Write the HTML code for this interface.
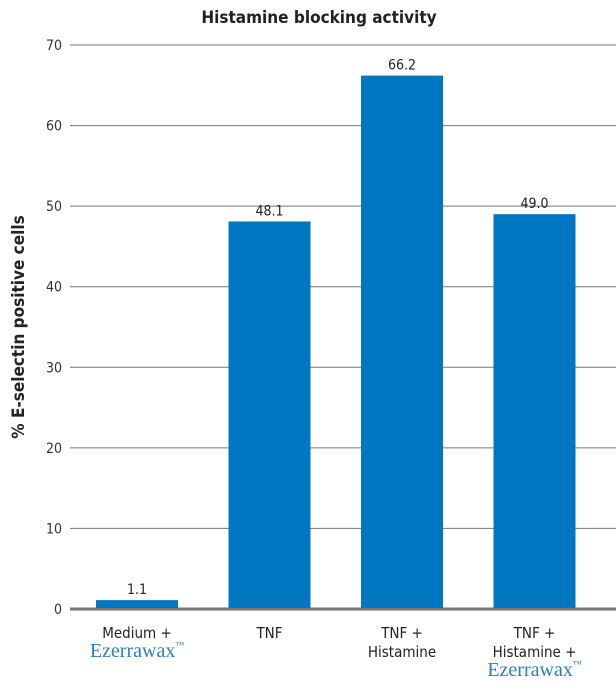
<!DOCTYPE html>
<html><head><meta charset="utf-8"><style>
body{margin:0;background:#fff;}
svg text{font-family:"DejaVu Sans Condensed","Liberation Sans",sans-serif;}
</style></head><body>
<svg width="616" height="685" viewBox="0 0 616 685">
<text x="319" y="23" text-anchor="middle" font-size="17" font-weight="bold" fill="#222">Histamine blocking activity</text>
<text transform="translate(24,327) rotate(-90)" text-anchor="middle" font-size="17" font-weight="bold" fill="#222">% E-selectin positive cells</text>
<g id="grid"></g><g id="bars"></g><g id="xlabels"></g>
</svg>
<script>
const categories=[["Medium +","Ezerrawax"],["TNF"],["TNF +","Histamine"],["TNF +","Histamine +","Ezerrawax"]];
const values=[1.1,48.1,66.2,49.0];
const valueLabels=["1.1","48.1","66.2","49.0"];
const ticks=[0,10,20,30,40,50,60,70];
const NS="http://www.w3.org/2000/svg";
const y0=609,y70=45,left=70,right=616;
const y=v=>y0-(v/70)*(y0-y70);
const bx=i=>96+i*132.5, bw=82;
function mk(t,a,p){const e=document.createElementNS(NS,t);for(const k in a)e.setAttribute(k,a[k]);p.appendChild(e);return e;}
const g=document.getElementById('grid');
ticks.forEach(t=>{
 const l=mk('line',{x1:left,x2:right,y1:y(t),y2:y(t),stroke:'#777','stroke-width':t===0?3:1},g);
 
 
 const tx=mk('text',{x:62,y:y(t)+5,'text-anchor':'end','font-size':14,fill:'#333'},g);
 tx.textContent=t;
 
 
});
const b=document.getElementById('bars');
values.forEach((v,i)=>{
 const r=mk('rect',{x:bx(i),y:y(v),width:bw,height:y0-1-y(v),fill:'#0077c0'},b);
 
 
 const t=mk('text',{x:bx(i)+bw/2,y:y(v)-6,'text-anchor':'middle','font-size':14,fill:'#222'},b);
 t.textContent=valueLabels[i];
 
 
});
const xl=document.getElementById('xlabels');
categories.forEach((c,i)=>{
 c.forEach((s,j)=>{
  const ez=s==="Ezerrawax";
  const t=mk('text',{x:bx(i)+bw/2,y:638+j*19,'text-anchor':'middle','font-size':ez?20:15,fill:ez?'#2a7fc4':'#222'},xl);
  if(ez){t.setAttribute('style','font-family:"Liberation Serif",serif');t.textContent="Ezerrawax";const s2=mk('tspan',{'font-size':9,dy:-9},t);s2.textContent="™";}
  else t.textContent=s;
  
  
 });
});
</script>
</body></html>
